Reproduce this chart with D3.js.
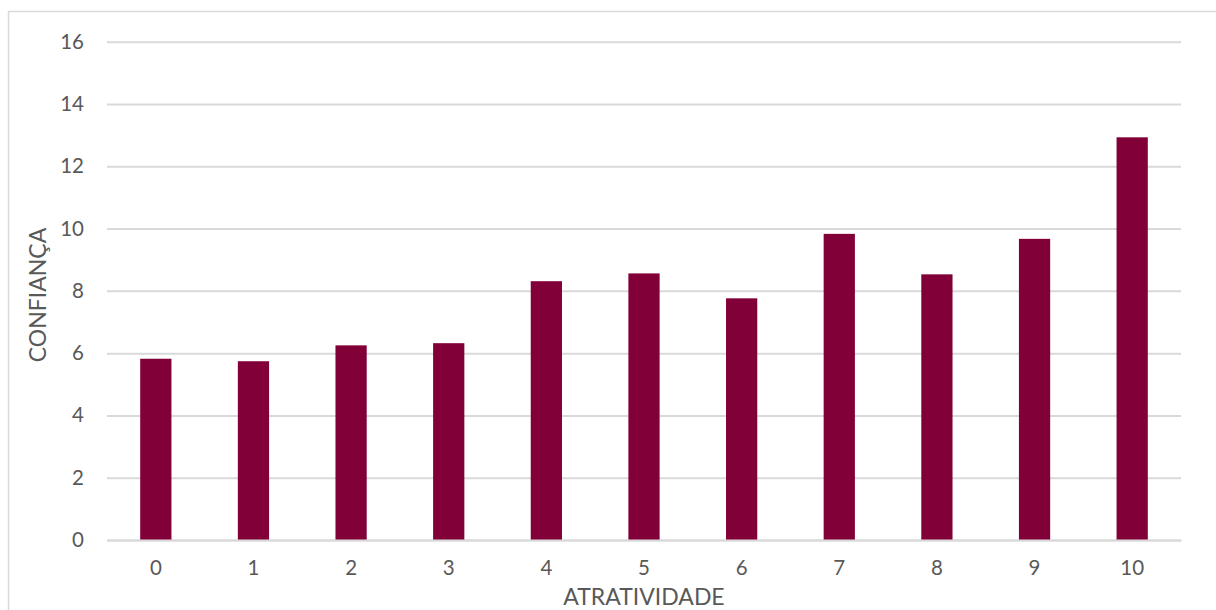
<!DOCTYPE html>
<html><head><meta charset="utf-8">
<script src="https://cdn.jsdelivr.net/npm/d3@7"></script>
<style>body{margin:0;background:#fff}svg{display:block}text{font-family:Lato,"Open Sans",sans-serif;fill:#595959}</style>
</head><body>
<svg id="c" width="1216" height="610"></svg>
<script>
const categories = ["0","1","2","3","4","5","6","7","8","9","10"];
const values = [5.82, 5.74, 6.25, 6.32, 8.31, 8.56, 7.76, 9.83, 8.53, 9.67, 12.93];
const yTicks = [0, 2, 4, 6, 8, 10, 12, 14, 16];
const xTitle = "ATRATIVIDADE";
const yTitle = "CONFIANÇA";

(function(){
const svg = d3.select("#c");
svg.append("rect").attr("x",8.5).attr("y",11.5).attr("width",1216).attr("height",610)
  .attr("fill","none").attr("stroke","#d9d9d9").attr("stroke-width",1.5);

const pL = 107, pR = 1181, pT = 41.7, pB = 540;
const x = d3.scaleBand().domain(categories).range([pL, pR]).paddingInner(0.68).paddingOuter(0.34);
const y = d3.scaleLinear().domain([0, 16]).range([pB, pT]);

const yAxis = svg.append("g").attr("transform", `translate(${pL},0)`)
  .call(d3.axisLeft(y).tickValues(yTicks).tickSize(-(pR-pL)).tickPadding(23));
yAxis.select(".domain").remove();
yAxis.selectAll("line").attr("stroke","#d9d9d9").attr("stroke-width",2);
yAxis.selectAll("text").attr("font-size",20.5).style("fill","#595959");

svg.append("g").selectAll("rect").data(values).join("rect")
  .attr("x",(d,i)=>x(categories[i])).attr("width",x.bandwidth())
  .attr("y",d=>y(d)).attr("height",d=>y(0)-y(d)).attr("fill","#820038");

const xAxis = svg.append("g").attr("transform",`translate(0,${pB})`)
  .call(d3.axisBottom(x).tickSize(0).tickPadding(20));
xAxis.select(".domain").attr("stroke","#d9d9d9").attr("stroke-width",2);
xAxis.selectAll("text").attr("font-size",20.5).style("fill","#595959");

svg.append("text").attr("x",(pL+pR)/2).attr("y",605).attr("text-anchor","middle")
  .attr("font-size",23).text(xTitle);
svg.append("text").attr("transform","translate(46,295) rotate(-90)").attr("text-anchor","middle")
  .attr("font-size",23).text(yTitle);
})();
</script>
</body></html>
